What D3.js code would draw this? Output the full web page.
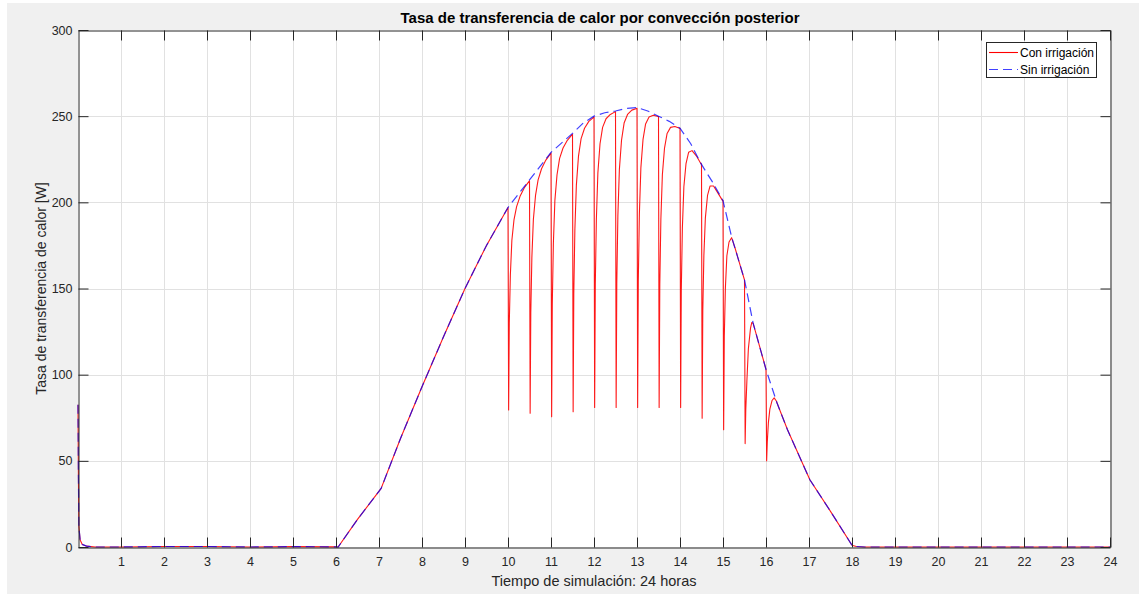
<!DOCTYPE html>
<html>
<head>
<meta charset="utf-8">
<script src="https://cdn.jsdelivr.net/npm/d3@7"></script>
<style>
  html, body { margin: 0; padding: 0; background: #ffffff; }
  svg { display: block; font-family: "Liberation Sans", Arial, Helvetica, sans-serif; }
</style>
</head>
<body>
<svg id="chart" width="1139" height="594"></svg>
<script>
// ---------------- data ----------------
const chartTitle = "Tasa de transferencia de calor por convección posterior";
const xLabel = "Tiempo de simulación: 24 horas";
const yLabel = "Tasa de transferencia de calor [W]";
const seriesNames = ["Con irrigación", "Sin irrigación"];
const xTicks = [1,2,3,4,5,6,7,8,9,10,11,12,13,14,15,16,17,18,19,20,21,22,23,24];
const yTicks = [0,50,100,150,200,250,300];

// Sin irrigación (blue dashed)
const blueT = [0, 0.01, 0.02, 0.05, 0.1, 0.2, 0.4, 1, 2, 3, 4, 5, 6, 6.05, 6.5, 7.05, 7.5, 8, 8.5, 9, 9.5, 10,
  10.5, 11, 11.5, 11.75, 12, 12.25, 12.5, 12.75, 13, 13.25, 13.5, 13.75, 14, 14.25, 14.5, 14.75, 15,
  15.2, 15.5, 15.7, 16, 16.25, 16.5, 17.02, 17.5, 18, 18.1, 18.3, 19, 20, 21, 22, 23, 24];
const blueV = [82.5, 40, 12, 4, 1.5, 0.5, 0, 0, 0.3, 0.3, 0, 0.2, 0.1, 0, 16, 34, 63, 93, 122, 150, 175, 197,
  213, 229, 240, 246, 250, 252, 253, 254.5, 255, 253, 250, 247, 243, 234, 222, 212, 201,
  180, 155, 130, 103, 84, 68, 39, 20.7, 1, 0.3, 0, 0, 0, 0, 0, 0, 0];

// Con irrigación (red solid)
const redT = [0, 0.01, 0.02, 0.05, 0.1, 0.2, 0.4, 1, 2, 3, 4, 5, 6, 6.05, 6.5, 7.05, 7.5, 8, 8.5, 9, 9.5,
  10, 10.015, 10.03, 10.055, 10.09, 10.14, 10.2, 10.28, 10.38, 10.49,
  10.5, 10.515, 10.53, 10.555, 10.59, 10.64, 10.7, 10.78, 10.88, 10.99,
  11, 11.015, 11.03, 11.055, 11.09, 11.14, 11.2, 11.28, 11.38, 11.49,
  11.5, 11.515, 11.53, 11.555, 11.59, 11.64, 11.7, 11.78, 11.88, 11.99,
  12, 12.015, 12.03, 12.055, 12.09, 12.14, 12.2, 12.28, 12.38, 12.49,
  12.5, 12.515, 12.53, 12.555, 12.59, 12.64, 12.7, 12.78, 12.88, 12.99,
  13, 13.015, 13.03, 13.055, 13.09, 13.14, 13.2, 13.28, 13.38, 13.49,
  13.5, 13.515, 13.53, 13.555, 13.59, 13.64, 13.7, 13.78, 13.88, 13.99,
  14, 14.015, 14.03, 14.055, 14.09, 14.14, 14.2, 14.28, 14.38, 14.49,
  14.5, 14.515, 14.53, 14.555, 14.59, 14.64, 14.7, 14.78, 14.88, 14.99,
  15, 15.015, 15.03, 15.055, 15.09, 15.14, 15.2, 15.28, 15.38, 15.49,
  15.5, 15.515, 15.53, 15.555, 15.59, 15.64, 15.67, 15.7, 15.78, 15.88, 15.99,
  16, 16.015, 16.03, 16.055, 16.09, 16.14, 16.19, 16.24, 16.3, 16.4, 16.5,
  17.02, 17.5, 18, 18.1, 18.3, 19, 20, 21, 22, 23, 24];
const redV = [82.5, 40, 12, 4, 1.5, 0.5, 0, 0, 0.3, 0.3, 0, 0.2, 0.1, 0, 16, 34, 63, 93, 122, 150, 175,
  197, 79.5, 130, 158, 178, 190, 197.5, 203.5, 208.5, 212.2,
  212.5, 77.6, 136, 168, 190, 204, 213, 219.5, 224.5, 228.3,
  228.6, 75.6, 141, 176, 201, 216, 225.5, 231.5, 236, 239.3,
  239.5, 78.5, 147, 184, 210, 227, 237, 243, 247, 249.3,
  249.5, 81, 152, 190, 217, 234, 243.5, 248.5, 251, 252.5,
  252.6, 81, 153, 192, 219, 236, 246, 251, 253.5, 254.5,
  254.5, 81, 154, 193, 220, 236.5, 245.5, 249.5, 250.5, 249.8,
  249.8, 81, 152, 190, 216, 231.5, 240, 243.5, 244, 243,
  243, 81, 149, 185, 209, 222.5, 229, 230, 227, 222.3,
  222.3, 74.7, 137, 169, 191, 204, 209.5, 209.5, 205.5, 201,
  201, 68, 122, 150, 169, 177, 179.5, 173.5, 165, 155.8,
  155, 60, 80, 96, 115, 127, 130.3, 129.8, 122.8, 113.8, 104,
  103, 50, 61, 72, 80, 85, 86.5, 84.7, 80.8, 74.4, 68,
  39, 20.7, 1, 0.3, 0, 0, 0, 0, 0, 0, 0];

// ---------------- drawing ----------------
const W = 1139, H = 594;
const svg = d3.select("#chart");
const pLeft = 78, pRight = 1110, pTop = 30, pBottom = 547;

const x = d3.scaleLinear().domain([0, 24]).range([pLeft, pRight]);
const y = d3.scaleLinear().domain([0, 300]).range([pBottom, pTop]);

// figure background
svg.append("rect").attr("x", 7).attr("y", 3).attr("width", W - 7).attr("height", H - 3).attr("fill", "#f0f0f0");
// axes background
svg.append("rect").attr("x", pLeft).attr("y", pTop).attr("width", pRight - pLeft).attr("height", pBottom - pTop).attr("fill", "#ffffff");

// grid
const grid = svg.append("g").attr("stroke", "#e1e1e1").attr("stroke-width", 1);
grid.selectAll("line.vx").data(xTicks.filter(d => d > 0 && d < 24)).enter().append("line")
  .attr("x1", d => Math.round(x(d)) + 0.5).attr("x2", d => Math.round(x(d)) + 0.5)
  .attr("y1", pTop).attr("y2", pBottom);
grid.selectAll("line.hy").data(yTicks.filter(d => d > 0 && d < 300)).enter().append("line")
  .attr("x1", pLeft).attr("x2", pRight)
  .attr("y1", d => Math.round(y(d)) + 0.5).attr("y2", d => Math.round(y(d)) + 0.5);

// series
const lineGen = (T, V) => d3.line().x((d, i) => x(T[i])).y((d, i) => y(V[i]))(T);
svg.append("path").attr("d", lineGen(redT, redV))
  .attr("fill", "none").attr("stroke", "#ff0000").attr("stroke-width", 1.1).attr("stroke-linejoin", "round")
  .attr("stroke-opacity", 0.9);
svg.append("path").attr("d", lineGen(blueT, blueV))
  .attr("fill", "none").attr("stroke", "#0000ff").attr("stroke-width", 1.2)
  .attr("stroke-dasharray", "9,5").attr("stroke-opacity", 0.75);

// axes
const axisColor = "#262626";
function styleAxis(g) {
  g.selectAll("path.domain").attr("stroke", axisColor).attr("stroke-width", 1);
  g.selectAll(".tick line").attr("stroke", axisColor).attr("stroke-width", 1);
  g.selectAll(".tick text").attr("fill", axisColor).attr("font-size", 12.5)
    .attr("font-family", "'Liberation Sans', Arial, Helvetica, sans-serif");
}
svg.append("g").attr("transform", `translate(0,${pBottom + 0.5})`)
  .call(d3.axisBottom(x).tickValues(xTicks).tickSize(-10).tickSizeOuter(0).tickPadding(10).tickFormat(d3.format("d")))
  .call(styleAxis);
svg.append("g").attr("transform", `translate(0,${pTop + 0.5})`)
  .call(d3.axisTop(x).tickValues(xTicks).tickSize(-10).tickSizeOuter(0).tickFormat(""))
  .call(styleAxis);
svg.append("g").attr("transform", `translate(${pLeft + 0.5},0)`)
  .call(d3.axisLeft(y).tickValues(yTicks).tickSize(-10).tickSizeOuter(0).tickPadding(6).tickFormat(d3.format("d")))
  .call(styleAxis);
svg.append("g").attr("transform", `translate(${pRight + 0.5},0)`)
  .call(d3.axisRight(y).tickValues(yTicks).tickSize(-10).tickSizeOuter(0).tickFormat(""))
  .call(styleAxis);

// title & labels
svg.append("text").attr("x", 600).attr("y", 23).attr("text-anchor", "middle")
  .attr("font-size", 15).attr("font-weight", "bold").attr("fill", "#000").text(chartTitle);
svg.append("text").attr("x", (pLeft + pRight) / 2).attr("y", 586).attr("text-anchor", "middle")
  .attr("font-size", 14.5).attr("fill", axisColor).text(xLabel);
svg.append("text").attr("transform", `translate(46,${(pTop + pBottom) / 2}) rotate(-90)`).attr("text-anchor", "middle")
  .attr("font-size", 14).attr("fill", axisColor).text(yLabel);

// legend
const lg = svg.append("g");
lg.append("rect").attr("x", 986.5).attr("y", 42.5).attr("width", 110).attr("height", 35)
  .attr("fill", "#ffffff").attr("stroke", axisColor).attr("stroke-width", 1);
const legendItems = [
  { name: seriesNames[0], color: "#ff0000", dash: null, yy: 52.5 },
  { name: seriesNames[1], color: "#0000ff", dash: "9,5", yy: 69.5 }
];
legendItems.forEach(it => {
  lg.append("line").attr("x1", 989).attr("x2", 1018).attr("y1", it.yy).attr("y2", it.yy)
    .attr("stroke", it.color).attr("stroke-width", 1.1).attr("stroke-dasharray", it.dash)
    .attr("stroke-opacity", it.dash ? 0.75 : 1);
  lg.append("text").attr("x", 1020).attr("y", it.yy + 4).attr("font-size", 12).attr("fill", "#000").text(it.name);
});
</script>
</body>
</html>
